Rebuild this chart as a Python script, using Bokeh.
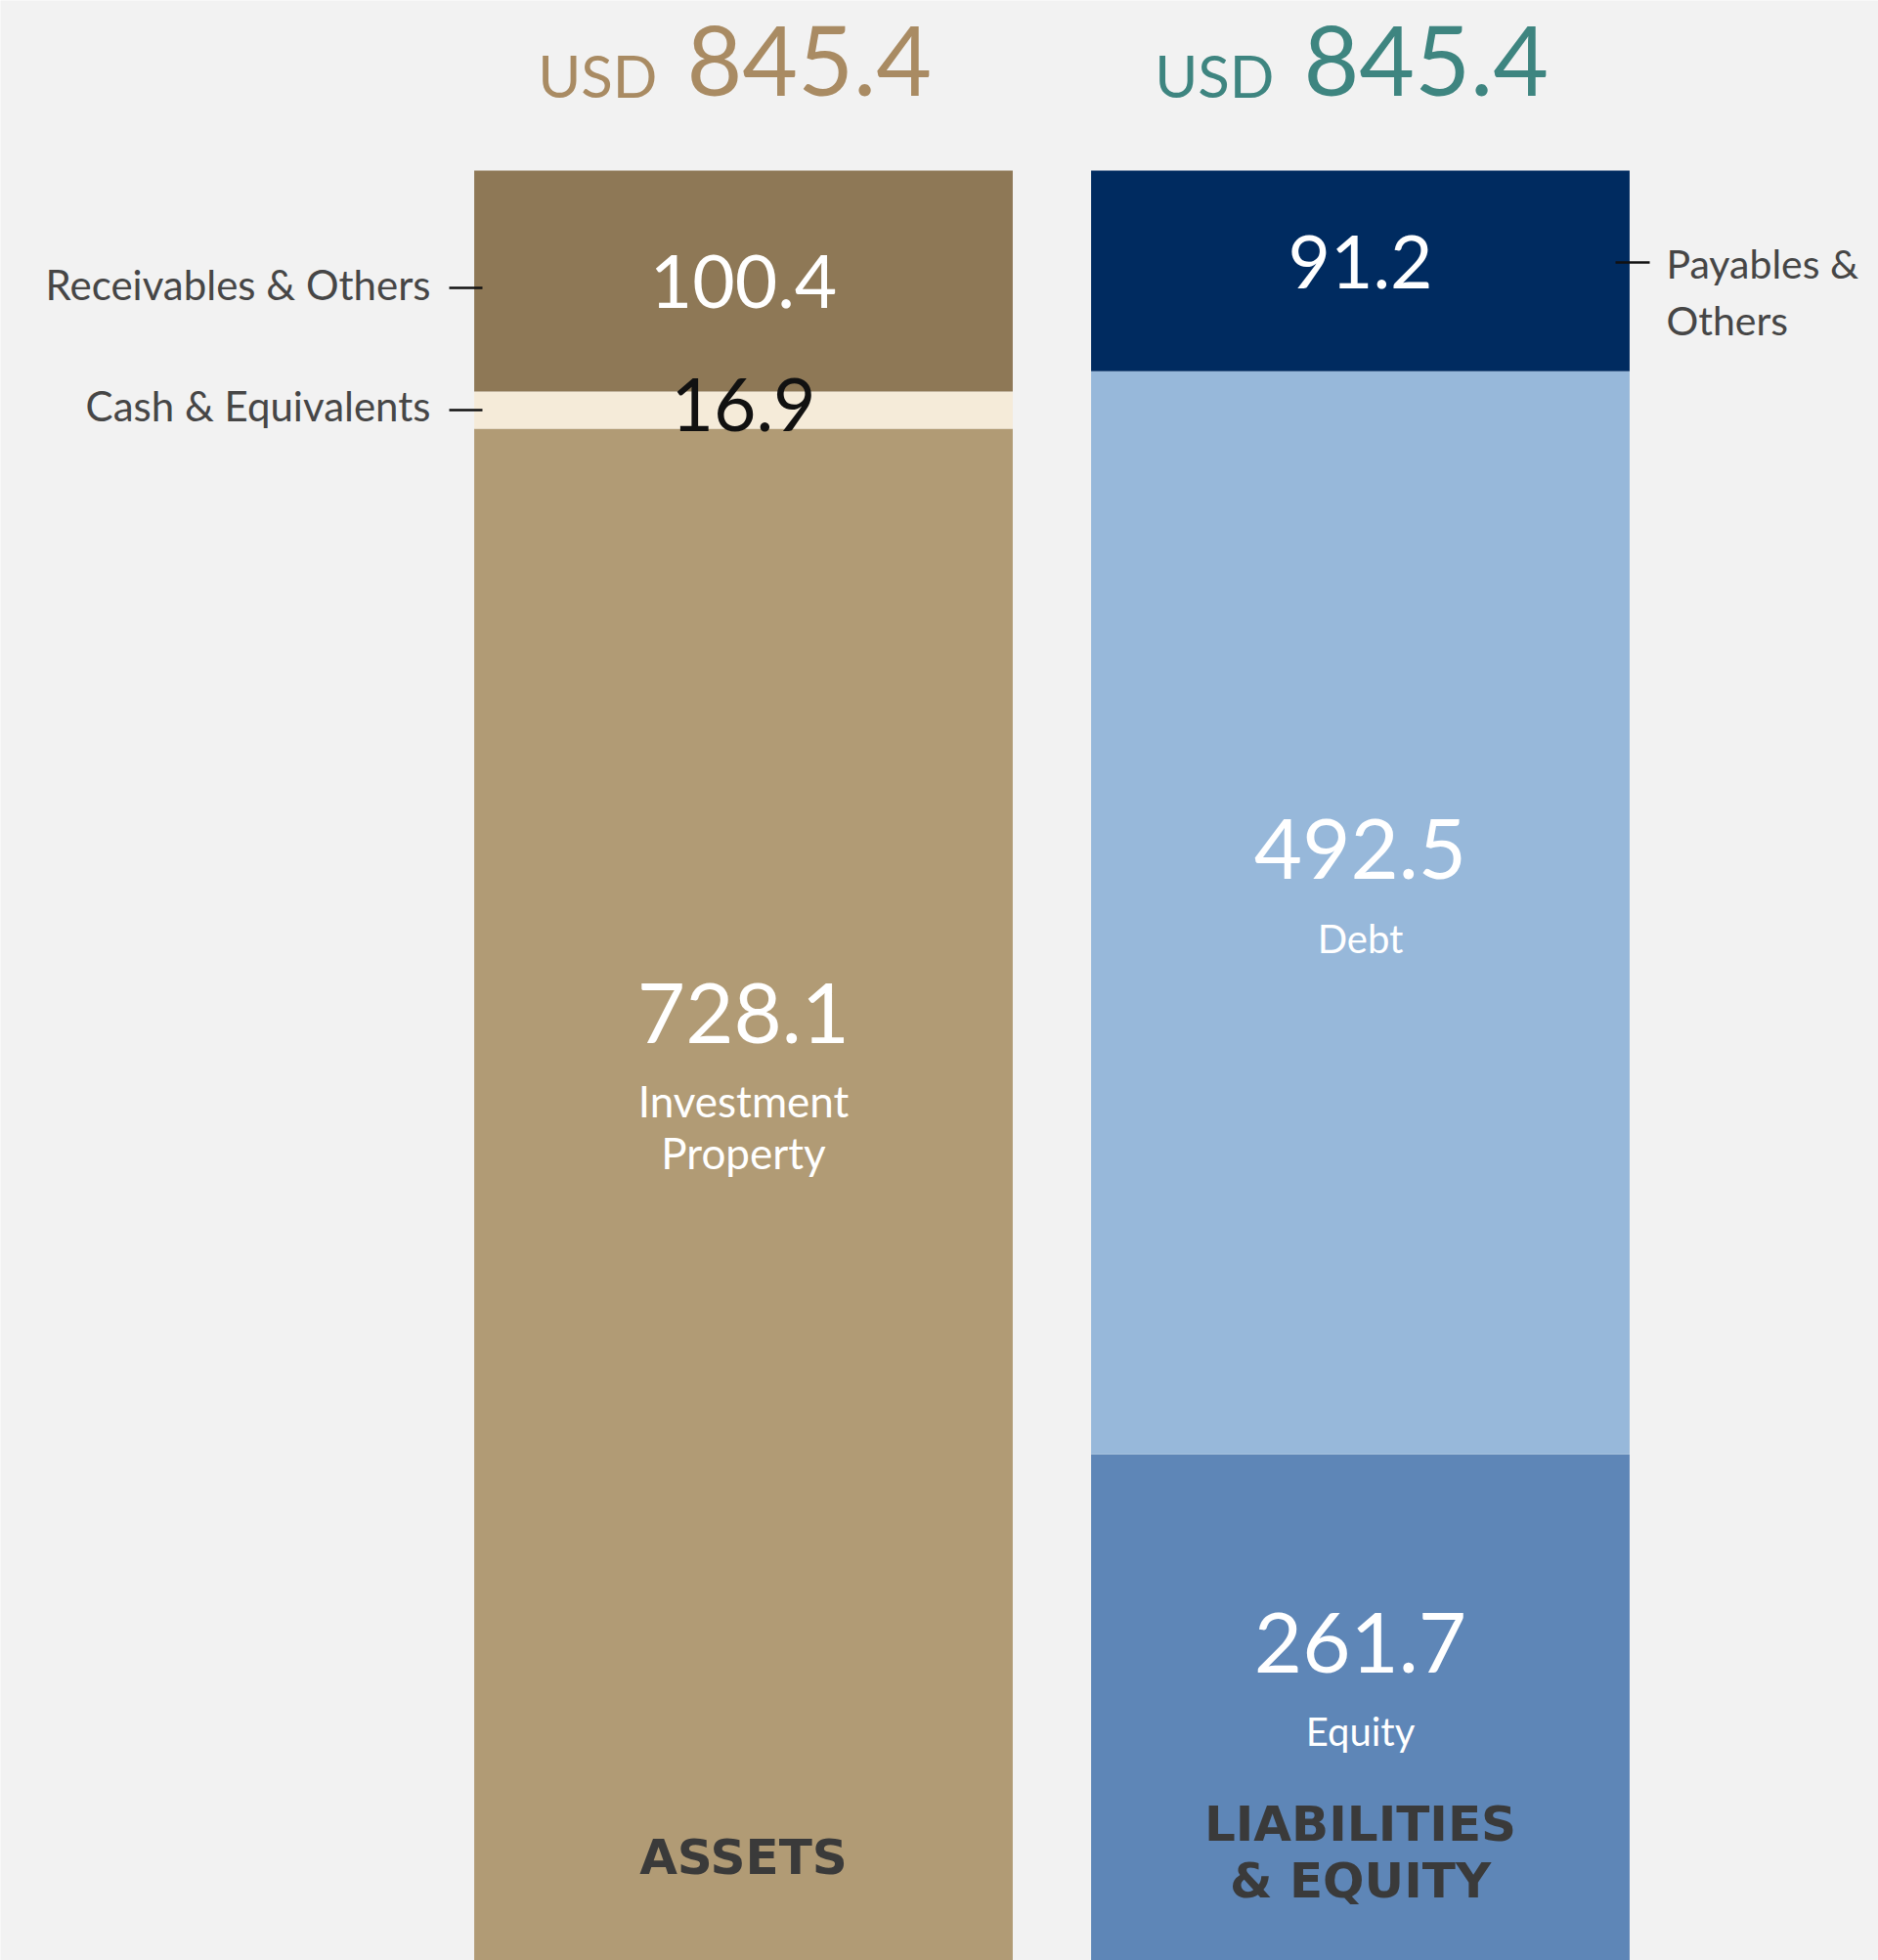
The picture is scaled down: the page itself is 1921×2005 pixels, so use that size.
from bokeh.plotting import figure
from bokeh.models import Range1d
from bokeh.core.properties import value
from bokeh.embed import file_html
from bokeh.resources import INLINE

# ---------------- data ----------------
column_titles = [["ASSETS"], ["LIABILITIES", "& EQUITY"]]
currency = "USD"

asset_items = ["Investment Property", "Cash & Equivalents", "Receivables & Others"]
asset_values = [728.1, 16.9, 100.4]

liab_items = ["Equity", "Debt", "Payables & Others"]
liab_values = [261.7, 492.5, 91.2]

# ---------------- style / layout ----------------
BG = "#f2f2f2"
asset_colors = ["#b19b75", "#f5ebd9", "#8e7856"]
liab_colors = ["#5e86b7", "#97b8da", "#002b60"]
title_colors = ["#a98b63", "#3e8580"]
value_colors_assets = ["white", "#111111", "white"]
value_colors_liab = ["white", "white", "white"]
FONT = "Lato"

W, H = 1921, 2005
PX_X = 631.0               # pixels per x unit (distance between bar centres)
BAR_W = 0.873
K = 2.25                   # pixels per USD unit
BAR_TOP_PAGE = 174         # page y of bar tops
BASE_SHIFT = 0.388         # renderer places the alphabetic baseline this many em below y

totals = [sum(asset_values), sum(liab_values)]
top_total = max(totals)
x_start = -760 / PX_X
x_end = x_start + W / PX_X
y_end = top_total + BAR_TOP_PAGE / K
y_start = y_end - H / K


def yp(page_y):
    return y_end - page_y / K


def yb(baseline, size):
    """data y for a text whose alphabetic baseline should sit at page y `baseline`"""
    return yp(baseline - BASE_SHIFT * size)


def xp(page_x):
    return x_start + page_x / PX_X


p = figure(width=W, height=H, output_backend="svg", toolbar_location=None,
           x_range=Range1d(x_start, x_end), y_range=Range1d(y_start, y_end),
           x_axis_location=None, y_axis_location=None, min_border=0,
           background_fill_color=BG, border_fill_color=BG, outline_line_color=None)
p.xgrid.visible = False
p.ygrid.visible = False


def txt(x, baseline, s, size, color, align="center", font=FONT, style="normal", x_offset=0):
    p.text(x=[x], y=[yb(baseline, size)], text=[s], x_offset=x_offset,
           text_font=value(font), text_font_size=f"{size}px", text_font_style=style,
           text_color=color, text_align=align, text_baseline="alphabetic")


# ---------------- bars ----------------
for col, (vals, cols) in enumerate([(asset_values, asset_colors), (liab_values, liab_colors)]):
    bottoms, tops = [], []
    acc = 0.0
    for v in vals:
        bottoms.append(acc)
        acc += v
        tops.append(acc)
    p.vbar(x=[col] * len(vals), bottom=bottoms, top=tops, width=BAR_W,
           fill_color=cols, line_color=None)

# ---------------- titles (USD totals) ----------------
for col, tot in enumerate(totals):
    txt(col, 100, currency, 60, title_colors[col], align="right", x_offset=-88)
    txt(col, 100, f"{tot:.1f}", 98, title_colors[col], align="left", x_offset=-58)

# ---------------- value labels ----------------
asset_value_base = [1069, 443, 317]
asset_value_size = [85, 75, 75]
for i, v in enumerate(asset_values):
    txt(0, asset_value_base[i], f"{v:.1f}", asset_value_size[i], value_colors_assets[i])

liab_value_base = [1713, 901, 297]
liab_value_size = [85, 85, 75]
for i, v in enumerate(liab_values):
    txt(1, liab_value_base[i], f"{v:.1f}", liab_value_size[i], value_colors_liab[i])

# inner category names
inv_words = asset_items[0].split(" ")
for w, b in zip(inv_words, [1143, 1196]):
    txt(0, b, w, 44, "white")
txt(1, 975, liab_items[1], 40, "white")
txt(1, 1786, liab_items[0], 40, "white")

# column titles
txt(0, 1919, column_titles[0][0], 50, "#3a3a3a", font="DejaVu Sans", style="bold")
for line, b in zip(column_titles[1], [1885, 1943]):
    txt(1, b, line, 50, "#3a3a3a", font="DejaVu Sans", style="bold")

# ---------------- side labels with ticks ----------------
SIDE = "#464646"
txt(xp(440), 307, asset_items[2], 42, SIDE, align="right")
txt(xp(440), 431, asset_items[1], 42, SIDE, align="right")
p.segment(x0=[xp(459), xp(459)], y0=[yp(294), yp(419)], x1=[xp(493), xp(493)],
          y1=[yp(294), yp(419)], line_color="#111111", line_width=2.5)

pay_words = ["Payables &", "Others"]
for w, b in zip(pay_words, [285, 343]):
    txt(xp(1704), b, w, 41, SIDE, align="left")
p.segment(x0=[xp(1652)], y0=[yp(268)], x1=[xp(1687)], y1=[yp(268)],
          line_color="#111111", line_width=2.5)

open("out.html", "w").write(file_html(p, INLINE))
